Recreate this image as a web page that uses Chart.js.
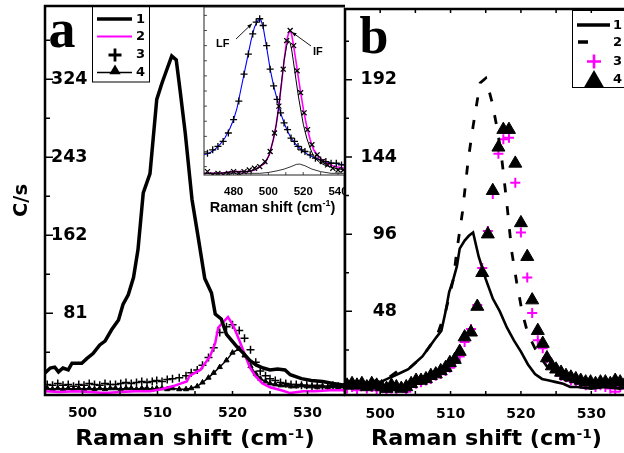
<!DOCTYPE html>
<html>
<head>
<meta charset="utf-8">
<script src="https://cdn.jsdelivr.net/npm/chart.js@4/dist/chart.umd.min.js"></script>
<style>
  html, body { margin: 0; padding: 0; background: #fff; }
  body { width: 624px; height: 453px; overflow: hidden; position: relative; }
  canvas { position: absolute; top: 0; }
</style>
</head>
<body>
<canvas id="chartA" width="352" height="453" style="left:0"></canvas>
<canvas id="chartIn" width="160" height="220" style="left:195px"></canvas>
<canvas id="chartB" width="340" height="453" style="left:300px"></canvas>
<script>
// ---- panel a ----
const a1X = [495.0, 495.7, 496.3, 496.8, 497.4, 498.1, 498.6, 499.9, 500.6, 501.4, 502.3, 503.0, 503.9, 504.8, 505.4, 506.1, 506.8, 507.4, 508.1, 509.0, 509.9, 510.6, 511.2, 511.9, 512.5, 513.0, 513.7, 514.6, 515.4, 516.3, 517.2, 517.7, 518.5, 519.2, 520.6, 521.5, 522.3, 523.2, 524.1, 525.0, 526.0, 527.0, 527.7, 529.2, 530.5, 532.0, 533.4, 535.0];
const a1Y = [19, 24, 25, 20, 24, 22, 29, 29, 34, 39, 48, 52, 64, 74, 90, 100, 118, 147, 206, 226, 303, 320, 333, 348, 344, 313, 268, 199, 161, 117, 102, 80, 75, 59, 46, 39, 32, 27, 24, 22, 23, 22, 17, 13, 11, 10, 8, 6];
const a2X = [495, 497, 499, 501, 503, 505, 507, 509, 510.5, 512, 513.9, 514.3, 515.7, 517.0, 517.7, 518.1, 518.8, 519.4, 520.1, 521.0, 521.6, 522.3, 523.0, 524.0, 525.0, 526.5, 527.7, 529.4, 531, 533, 535];
const a2Y = [0, -1, 0, -1, -2, -1, 0, 0, 2, 5, 10, 16, 22, 36, 50, 66, 72, 77, 68, 51, 39, 25, 16, 8, 4, 1, -2, 0, 0, 1, 1];
// shared x positions of the symbol series
const symX = [495.3, 496.0, 496.7, 497.4, 498.1, 498.8, 499.5, 500.2, 500.9, 501.6, 502.3, 503.0, 503.7, 504.4, 505.1, 505.8, 506.5, 507.2, 507.9, 508.6, 509.3, 509.9, 510.6, 511.3, 512.0, 512.9, 513.8, 514.5, 515.3, 516.0, 516.8, 517.5, 518.3, 519.2, 520.0, 520.9, 521.6, 522.4, 523.1, 523.7, 524.4, 525.0, 525.7, 526.4, 527.1, 527.8, 528.5, 529.2, 529.9, 530.6, 531.3, 532.0, 532.7, 533.4, 534.1, 534.8];
const a3Y = [7, 6, 8, 6, 7, 5, 7, 6, 8, 7, 6, 8, 7, 7, 8, 9, 8, 9, 10, 9, 10, 11, 10, 12, 13, 14, 16, 19, 22, 27, 35, 45, 61, 67, 69, 63, 55, 43, 30, 21, 16, 13, 11, 9, 8, 7, 7, 6, 6, 5, 6, 5, 5, 6, 5, 4];
const a4Y = [3, 2, 3, 2, 3, 2, 3, 2, 3, 2, 3, 2, 3, 3, 2, 3, 3, 2, 3, 3, 2, 3, 3, 2, 3, 2, 2, 3, 5, 9, 14, 19, 25, 32, 40, 44, 37, 26, 18, 13, 10, 8, 7, 6, 6, 5, 5, 6, 5, 5, 4, 5, 4, 5, 4, 5];

// ---- panel b ----
const b1X = [495, 496, 497, 498, 499, 500, 501, 502, 503, 504, 505, 506, 507, 508, 508.7, 509.3, 509.8, 510.4, 510.9, 511.3, 512, 512.6, 513.2, 514, 515, 516, 517, 518, 519, 520, 521, 522, 523, 524, 525, 526, 527, 528, 530, 532, 534, 535.5];
const b1Y = [3, 2, 4, 3, 5, 4, 6, 8, 10, 12, 16, 20, 26, 32, 36, 48, 60, 68, 76, 87, 92, 95, 97, 82, 68, 56, 48, 38, 30, 23, 15, 9, 6, 5, 4, 3, 1, 1, 0, 1, 0, 1];
const b2X = [495, 497, 499, 501, 502.8, 504, 506, 508, 509.3, 510.4, 510.9, 511.7, 512.5, 513.2, 514.2, 515.0, 515.9, 516.7, 517.3, 518.0, 518.7, 519.4, 520.2, 521, 522, 523, 524, 525, 526, 528, 530, 532, 535.5];
const b2Y = [2, 3, 4, 6, 12, 12, 20, 32, 48, 68, 86, 110, 142, 163, 190, 193, 178, 160, 142, 115, 85, 66, 47, 34, 25, 18, 12, 8, 6, 3, 2, 1, 1];
const b3Y = [0, 1, -1, 2, 0, 1, -1, 1, -2, 0, -1, 1, -2, 2, 3, 4, 5, 6, 8, 9, 11, 13, 16, 20, 29, 37, 52, 75, 98, 121, 146, 155, 156, 128, 97, 69, 47, 30, 25, 19, 14, 11, 8, 7, 5, 4, 3, 2, 3, 1, 2, 1, 0, -2, 1, 0];
const b4Y = [2, 3, 2, 3, 1, 3, 2, 1, 0, 2, 1, 0, 1, 3, 5, 5, 6, 8, 9, 11, 13, 16, 18, 23, 32, 35, 51, 72, 96, 123, 150, 161, 161, 140, 103, 82, 55, 36, 28, 19, 14, 12, 10, 8, 7, 6, 5, 4, 4, 3, 4, 4, 3, 5, 4, 3];

// ---- inset ----
const lfX = [463, 466, 469, 472, 475, 478, 480, 482, 484, 486, 488, 490, 492, 494, 495.5, 497, 499, 501, 503, 505, 507, 509, 511, 513, 516, 519, 523, 527, 532, 537, 544];
const lfY = [12, 13, 15, 18, 22, 28, 33, 40, 50, 60, 70, 80, 88, 92, 93, 88, 76, 63, 53, 45, 37, 31, 26, 22, 18, 15, 12, 10, 8, 7, 6];
const ifX = [463, 472, 480, 488, 492, 495, 498, 500.5, 502.8, 504.5, 506, 507.5, 509, 510.5, 511.5, 512.4, 513.3, 514.3, 515.8, 517.2, 518.7, 520.1, 522, 524, 526, 528.7, 532, 538, 544];
const ifMagY = [1, 1, 2, 2, 3, 5, 7, 12, 21, 30, 41, 54, 68, 80, 84, 86, 84, 78, 68, 58, 48, 39, 29, 21, 15, 11, 8, 5, 4];
const ifBlkY = [1, 1, 2, 2, 3, 5, 7, 12, 21, 30, 41, 55, 68, 77, 80, 79, 75, 68, 57, 47, 38, 30, 22, 16, 11, 8, 6, 4, 3];
const bumpX = [463, 495, 500, 505, 509, 513, 516, 518, 521, 525, 530, 536, 544];
const bumpY = [1, 1, 1.5, 2.5, 3.5, 5, 6.3, 6.5, 5.5, 3.5, 2, 1, 1];
const lfPtX = [465, 468, 471, 474, 477, 480, 483, 486, 488.5, 491, 493, 495, 497, 499, 501, 503, 505, 507, 509, 511, 513, 515, 517, 519, 521, 524, 527, 530, 533, 536, 539, 542];
const lfPtY = [13, 15, 17, 20, 25, 33, 44, 60, 72, 84, 91, 93, 89, 77, 63, 53, 45, 37, 31, 27, 22, 20, 17, 15, 14, 12, 10, 9, 8, 7, 7, 6];
const ifPtX = [465, 468, 471, 474, 477, 480, 483, 486, 489, 492, 495, 498, 501, 503.5, 506, 508.5, 510.5, 512.5, 514.5, 516.5, 518.5, 520.5, 522.5, 525, 528, 531, 534, 537, 540, 543];
const ifPtY = [2, 0, 1, 0, 1, 2, 1, 2, 3, 4, 5, 8, 14, 25, 41, 63, 80, 86, 77, 62, 49, 37, 27, 18, 12, 8, 6, 4, 3, 3];

// ---- ticks ----
const xTicks = [500, 505, 510, 515, 520, 525, 530, 535];
const xLabels = [500, 510, 520, 530];
const yTicksA = [40.5, 81, 121.5, 162, 202.5, 243, 283.5, 324, 364.5];
const yLabelsA = [81, 162, 243, 324];
const yTicksB = [0, 24, 48, 72, 96, 120, 144, 168, 192, 216];
const yLabelsB = [48, 96, 144, 192];
const xTicksIn = [470, 480, 490, 500, 510, 520, 530, 540];
const xLabelsIn = [480, 500, 520, 540];
const yTicksIn = [5, 14, 23, 32, 41, 50, 59, 68, 77, 86, 95];

const DV = 'DejaVu Sans';
const LS = 'Liberation Sans';
const MAG = '#ff00ff';

const pts = (xs, ys) => xs.map((x, i) => ({ x: x, y: ys[i] }));
const lineSet = (xs, ys, color, width, dash) => ({
  data: pts(xs, ys), showLine: true, borderColor: color, borderWidth: width,
  borderDash: dash || [], pointRadius: 0, pointHoverRadius: 0
});
const markSet = (xs, ys, style, r, color, width) => ({
  data: pts(xs, ys), showLine: false, pointStyle: style, pointRadius: r, pointHoverRadius: r,
  borderColor: color, pointBorderColor: color, pointBorderWidth: width,
  pointBackgroundColor: color, backgroundColor: color
});

function xScale(min, max, ticks, labels, font, pad, h) {
  return {
    type: 'linear', min: min, max: max,
    afterBuildTicks: s => { s.ticks = ticks.map(v => ({ value: v })); },
    afterFit: s => { s.height = h; s.paddingLeft = 0; s.paddingRight = 0; },
    grid: { display: false, drawTicks: false }, border: { display: false },
    ticks: { padding: pad, autoSkip: false, maxRotation: 0, color: '#000', font: font,
      callback: v => labels.includes(v) ? String(v) : '' }
  };
}
function yScale(min, max, ticks, labels, font, pad, w) {
  return {
    type: 'linear', min: min, max: max,
    afterBuildTicks: s => { s.ticks = ticks.map(v => ({ value: v })); },
    afterFit: s => { s.width = w; s.paddingTop = 0; s.paddingBottom = 0; },
    grid: { display: false, drawTicks: false }, border: { display: false },
    ticks: { mirror: true, crossAlign: 'far', padding: pad, autoSkip: false, color: '#000', font: font,
      callback: v => labels.includes(v) ? String(v) : '' }
  };
}

// inward ticks + frame, drawn from the chart's own scales
function decor(cfg) {
  return {
    id: 'decor',
    beforeDraw(chart) {
      if (!cfg.fill) return;
      const { ctx, chartArea: a } = chart;
      ctx.save();
      ctx.fillStyle = '#fff';
      if (cfg.fill === 'area') ctx.fillRect(a.left, a.top, a.right - a.left, a.bottom - a.top);
      else ctx.fillRect(a.left, 0, chart.width - a.left, chart.height);
      ctx.restore();
    },
    afterDraw(chart) {
      const { ctx, chartArea: a, scales: { x, y } } = chart;
      ctx.save();
      ctx.strokeStyle = cfg.color || '#000';
      ctx.lineWidth = cfg.tickWidth;
      ctx.beginPath();
      y.ticks.forEach(t => {
        const py = y.getPixelForValue(t.value);
        const len = cfg.yLabels.includes(t.value) ? cfg.yMajor : cfg.yMinor;
        ctx.moveTo(a.left, py); ctx.lineTo(a.left + len, py);
      });
      x.ticks.forEach(t => {
        const px = x.getPixelForValue(t.value);
        ctx.moveTo(px, a.bottom); ctx.lineTo(px, a.bottom - cfg.xLen);
        if (cfg.topTicks) { ctx.moveTo(px, a.top); ctx.lineTo(px, a.top + cfg.xLen); }
      });
      ctx.stroke();
      ctx.lineWidth = cfg.frame;
      ctx.strokeRect(a.left, a.top, a.right - a.left, a.bottom - a.top);
      ctx.restore();
      if (cfg.extra) { ctx.save(); cfg.extra(chart, ctx); ctx.restore(); }
    }
  };
}

function ramanTitle(ctx, cx, base, size, supSize, rise, sx, weight, family) {
  const f1 = weight + ' ' + size + 'px "' + family + '"';
  const f2 = weight + ' ' + supSize + 'px "' + family + '"';
  const parts = [['Raman shift (cm', f1, 0], ['-1', f2, rise], [')', f1, 0]];
  let total = 0;
  parts.forEach(p => { ctx.font = p[1]; p.push(ctx.measureText(p[0]).width); total += p[3]; });
  ctx.save();
  ctx.translate(cx, base);
  ctx.scale(sx, 1);
  ctx.fillStyle = '#000';
  ctx.textBaseline = 'alphabetic';
  ctx.textAlign = 'left';
  let xx = -total / 2;
  parts.forEach(p => { ctx.font = p[1]; ctx.fillText(p[0], xx, -p[2]); xx += p[3]; });
  ctx.restore();
}
function hline(ctx, x1, x2, y, w, color, dash) {
  ctx.strokeStyle = color; ctx.lineWidth = w; ctx.setLineDash(dash || []);
  ctx.beginPath(); ctx.moveTo(x1, y); ctx.lineTo(x2, y); ctx.stroke(); ctx.setLineDash([]);
}
function plus(ctx, x, y, h, w, color) {
  ctx.strokeStyle = color; ctx.lineWidth = w;
  ctx.beginPath(); ctx.moveTo(x - h, y); ctx.lineTo(x + h, y); ctx.moveTo(x, y - h); ctx.lineTo(x, y + h); ctx.stroke();
}
function tri(ctx, x, y, r) {
  ctx.fillStyle = '#000';
  ctx.beginPath(); ctx.moveTo(x, y - r); ctx.lineTo(x + r * 0.866, y + r / 2); ctx.lineTo(x - r * 0.866, y + r / 2);
  ctx.closePath(); ctx.fill();
}
function label(ctx, txt, x, y, font) {
  ctx.font = font; ctx.fillStyle = '#000'; ctx.textAlign = 'left'; ctx.textBaseline = 'middle';
  ctx.fillText(txt, x, y);
}
function arrow(ctx, x1, y1, x2, y2) {
  ctx.strokeStyle = '#000'; ctx.fillStyle = '#000'; ctx.lineWidth = 0.9;
  ctx.beginPath(); ctx.moveTo(x1, y1); ctx.lineTo(x2, y2); ctx.stroke();
  const ang = Math.atan2(y2 - y1, x2 - x1);
  ctx.beginPath();
  ctx.moveTo(x2, y2);
  ctx.lineTo(x2 - 5 * Math.cos(ang - 0.4), y2 - 5 * Math.sin(ang - 0.4));
  ctx.lineTo(x2 - 5 * Math.cos(ang + 0.4), y2 - 5 * Math.sin(ang + 0.4));
  ctx.closePath(); ctx.fill();
}

const common = {
  responsive: false, animation: false, events: [],
  plugins: { legend: { display: false }, tooltip: { enabled: false } }
};

// ---------- panel a ----------
new Chart(document.getElementById('chartA'), {
  type: 'scatter',
  data: { datasets: [
    lineSet(a1X, a1Y, '#000', 3.5),
    lineSet(a2X, a2Y, MAG, 2.5),
    markSet(symX, a3Y, 'cross', 4, '#000', 1.5),
    Object.assign(markSet(symX, a4Y, 'triangle', 3, '#000', 1), { showLine: true, borderWidth: 1.5 })
  ] },
  options: Object.assign({}, common, {
    layout: { padding: { left: 0, top: 6, right: 7, bottom: 0 } },
    scales: {
      x: xScale(495, 535, xTicks, xLabels, { family: DV, size: 14, weight: 'bold' }, 10, 58),
      y: yScale(-4, 400, yTicksA, yLabelsA, { family: DV, size: 17.5, weight: 'bold' }, 6, 45)
    }
  }),
  plugins: [decor({
    tickWidth: 1.5, yLabels: yLabelsA, yMajor: 8, yMinor: 5, xLen: 4, frame: 2.5,
    extra: (chart, ctx) => {
      const a = chart.chartArea;
      ramanTitle(ctx, (a.left + a.right) / 2, 445, 21, 13, 7, 1.1, 'bold', DV);
      // y title
      ctx.save();
      ctx.translate(27, (a.top + a.bottom) / 2);
      ctx.rotate(-Math.PI / 2);
      ctx.font = 'bold 19.5px "' + DV + '"';
      ctx.fillStyle = '#000'; ctx.textAlign = 'center'; ctx.textBaseline = 'alphabetic';
      ctx.fillText('C/s', 0, 0);
      ctx.restore();
      // panel letter
      ctx.font = 'bold 54px "Liberation Serif"';
      ctx.fillStyle = '#000'; ctx.textAlign = 'left'; ctx.textBaseline = 'alphabetic';
      ctx.fillText('a', 48.5, 47);
      // legend
      ctx.strokeStyle = '#000'; ctx.lineWidth = 1;
      ctx.strokeRect(92.5, 6.5, 57, 75.5);
      const f = 'bold 13px "' + DV + '"';
      hline(ctx, 97, 132, 19, 3.3, '#000');
      label(ctx, '1', 136, 19.5, f);
      hline(ctx, 97, 132, 36.5, 2.2, MAG);
      label(ctx, '2', 136, 37, f);
      plus(ctx, 115, 55, 6.5, 2.8, '#000');
      label(ctx, '3', 136, 55, f);
      hline(ctx, 97, 132, 72.5, 1.7, '#000');
      tri(ctx, 115, 71, 6.5);
      label(ctx, '4', 136, 73, f);
    }
  })]
});

// ---------- inset ----------
new Chart(document.getElementById('chartIn'), {
  type: 'scatter',
  data: { datasets: [
    markSet(ifPtX, ifPtY, 'crossRot', 3.5, '#000', 1.3),
    markSet(lfPtX, lfPtY, 'cross', 3.5, '#000', 1.3),
    lineSet(ifX, ifBlkY, '#000', 1),
    lineSet(ifX, ifMagY, MAG, 1.6),
    lineSet(lfX, lfY, '#0000ff', 1.1),
    lineSet(bumpX, bumpY, '#000', 0.8)
  ] },
  options: Object.assign({}, common, {
    layout: { padding: { left: 0, top: 7, right: 10, bottom: 0 } },
    scales: {
      x: xScale(463, 544, xTicksIn, xLabelsIn, { family: LS, size: 11.5, weight: 'bold' }, 10, 45),
      y: yScale(0, 100, yTicksIn, [], { family: LS, size: 10 }, 4, 9)
    }
  }),
  plugins: [decor({
    fill: 'area', color: '#222', tickWidth: 0.8, yLabels: [], yMajor: 3, yMinor: 3, xLen: 3, frame: 1,
    extra: (chart, ctx) => {
      const a = chart.chartArea;
      const x = chart.scales.x, y = chart.scales.y;
      ramanTitle(ctx, (a.left + a.right) / 2 - 2, 212, 14.5, 9, 6, 1, 'bold', LS);
      const f = 'bold 11px "' + LS + '"';
      label(ctx, 'LF', 21, 44, f);
      arrow(ctx, 41, 39, x.getPixelForValue(490.5), y.getPixelForValue(90));
      label(ctx, 'IF', 118, 52, f);
      arrow(ctx, 116, 46, x.getPixelForValue(513.5), y.getPixelForValue(85));
    }
  })]
});

// ---------- panel b ----------
new Chart(document.getElementById('chartB'), {
  type: 'scatter',
  data: { datasets: [
    lineSet(b1X, b1Y, '#000', 2.6),
    lineSet(b2X, b2Y, '#000', 2.8, [9, 14]),
    markSet(symX, b4Y, 'triangle', 7.5, '#000', 1),
    markSet(symX, b3Y, 'cross', 5, MAG, 2)
  ] },
  options: Object.assign({}, common, {
    layout: { padding: { left: 0, top: 9, right: 10, bottom: 0 } },
    scales: {
      x: xScale(495, 535.5, xTicks, xLabels, { family: DV, size: 14, weight: 'bold' }, 11, 58),
      y: yScale(-4, 236, yTicksB, yLabelsB, { family: DV, size: 17.5, weight: 'bold' }, 15.5, 45)
    }
  }),
  plugins: [decor({
    fill: 'column', tickWidth: 1.5, yLabels: yLabelsB, yMajor: 7, yMinor: 4, xLen: 4, topTicks: true, frame: 2.5,
    extra: (chart, ctx) => {
      const a = chart.chartArea;
      // canvas starts at page x=300; title centre measured on the page
      ramanTitle(ctx, 486.5 - 300, 445, 21, 13, 7, 1.06, 'bold', DV);
      ctx.font = 'bold 52px "Liberation Serif"';
      ctx.fillStyle = '#000'; ctx.textAlign = 'left'; ctx.textBaseline = 'alphabetic';
      ctx.fillText('b', a.left + 14.5, 53);
      // legend (cropped at the right edge like the original)
      const L = 572 - 300;
      ctx.strokeStyle = '#000'; ctx.lineWidth = 1;
      ctx.strokeRect(L + 0.5, 10.5, 80, 77);
      const f = 'bold 13px "' + DV + '"';
      hline(ctx, L + 5, L + 38, 25, 3.5, '#000');
      label(ctx, '1', L + 41, 25.5, f);
      hline(ctx, L + 6, L + 16, 42, 3.5, '#000');
      label(ctx, '2', L + 41, 42.5, f);
      plus(ctx, L + 22, 61.5, 7, 2.6, MAG);
      label(ctx, '3', L + 41, 62, f);
      tri(ctx, L + 22, 81.5, 11.5);
      label(ctx, '4', L + 41, 80, f);
    }
  })]
});
</script>
</body>
</html>
